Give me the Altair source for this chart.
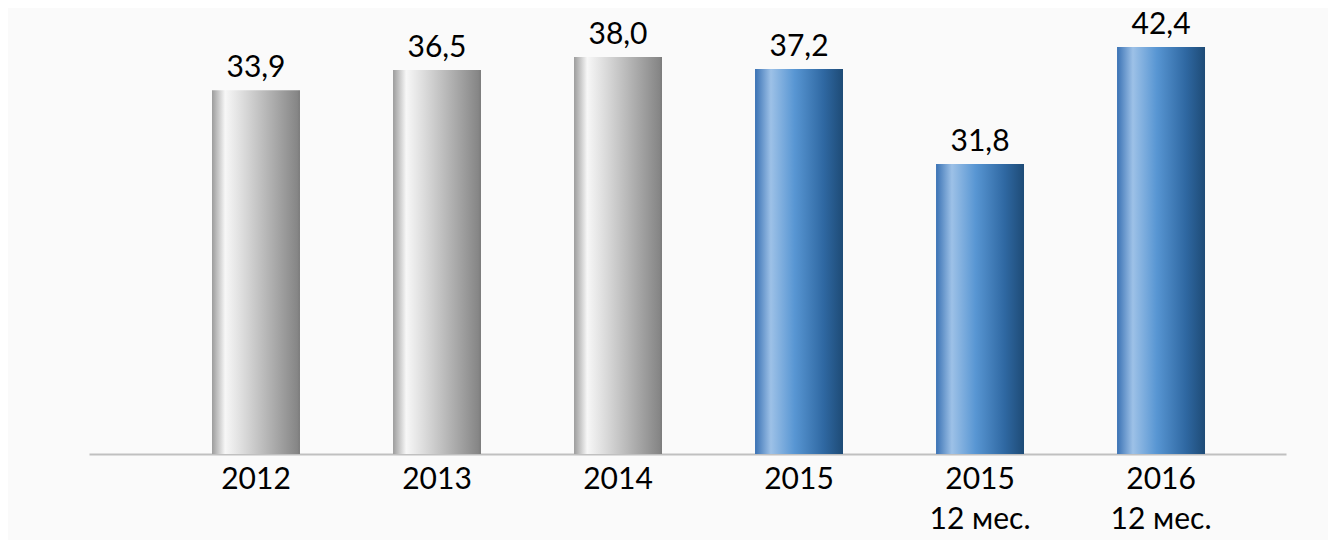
import altair as alt
import pandas as pd

categories = ["2012", "2013", "2014", "2015", "2015\n12 мес.", "2016\n12 мес."]
label_values = [33.9, 36.5, 38.0, 37.2, 31.8, 42.4]
# bar lengths as drawn in the source picture (not strictly proportional to the labels)
bar_heights = [37.9, 40.0, 41.35, 40.1, 30.2, 42.4]
groups = ["gray", "gray", "gray", "blue", "blue", "blue"]

df = pd.DataFrame({
    "cat": categories,
    "h": bar_heights,
    "v": label_values,
    "g": groups,
})
df["txt"] = df["v"].map(lambda x: f"{x:.1f}".replace(".", ","))

FONT = "Lato"
FS = 30

x_enc = alt.X(
    "cat:N",
    sort=categories,
    scale=alt.Scale(paddingInner=0.514, paddingOuter=0.5635, align=0.603),
    axis=alt.Axis(
        title=None,
        labelAngle=0,
        labelFontSize=FS,
        labelFont=FONT,
        labelColor="#000000",
        labelPadding=10,
        labelLineHeight=40,
        labelExpr="split(datum.value, '\\n')",
        ticks=False,
        domainColor="#c0c0c0",
        domainWidth=2,
        grid=False,
    ),
)
y_enc = alt.Y(
    "h:Q",
    scale=alt.Scale(domain=[0, 45], nice=False, zero=True),
    axis=None,
)

gray_grad = alt.Gradient(
    gradient="linear",
    x1=0, y1=0, x2=1, y2=0,
    stops=[
        alt.GradientStop(offset=0.0, color="#9c9c9c"),
        alt.GradientStop(offset=0.15, color="#f7f7f7"),
        alt.GradientStop(offset=0.35, color="#dcdcdc"),
        alt.GradientStop(offset=0.97, color="#868686"),
        alt.GradientStop(offset=1.0, color="#7a7a7a"),
    ],
)
blue_grad = alt.Gradient(
    gradient="linear",
    x1=0, y1=0, x2=1, y2=0,
    stops=[
        alt.GradientStop(offset=0.0, color="#3a72b4"),
        alt.GradientStop(offset=0.18, color="#9dc1e7"),
        alt.GradientStop(offset=0.45, color="#5896d3"),
        alt.GradientStop(offset=0.78, color="#2f68a2"),
        alt.GradientStop(offset=1.0, color="#1e4b76"),
    ],
)

base = alt.Chart(df)

gray_bars = base.transform_filter(alt.datum.g == "gray").mark_bar(
    color=gray_grad, cornerRadius=0
).encode(x=x_enc, y=y_enc)

blue_bars = base.transform_filter(alt.datum.g == "blue").mark_bar(
    color=blue_grad, cornerRadius=0
).encode(x=x_enc, y=y_enc)

labels = base.mark_text(
    font=FONT, fontSize=FS, color="#000000", baseline="alphabetic", dy=-13
).encode(x=alt.X("cat:N", sort=categories), y="h:Q", text="txt:N")

chart = (
    alt.layer(gray_bars, blue_bars, labels)
    .properties(
        width=1197,
        height=432,
        background="#fafafa",
        padding={"left": 81, "top": 14, "right": 42, "bottom": 86},
        autosize=alt.AutoSizeParams(type="none"),
    )
    .configure_view(stroke=None)
)

chart.save("out.html", embed_options={"renderer": "svg", "actions": False})
